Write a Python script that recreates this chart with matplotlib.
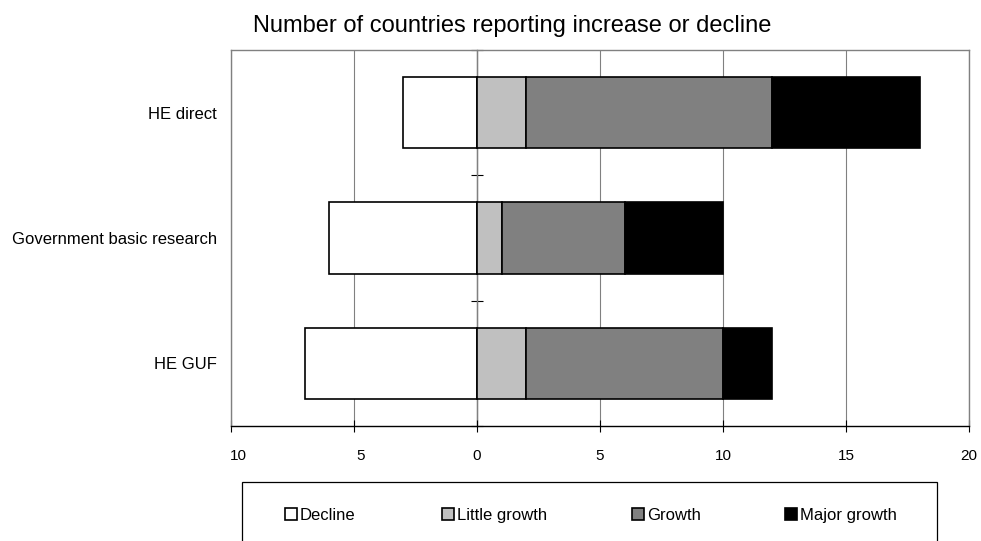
import matplotlib
matplotlib.use("Agg")
import matplotlib.pyplot as plt
import matplotlib.transforms as mtransforms
from matplotlib.patches import Rectangle
import numpy as np

plt.rcParams['font.family'] = ['Liberation Sans', 'DejaVu Sans']

# Number of countries per funding category
categories = ["HE direct", "Government basic research", "HE GUF"]
decline = [3, 6, 7]
little_growth = [2, 1, 2]
growth = [10, 5, 8]
major_growth = [6, 4, 2]

series_names = ["Decline", "Little growth", "Growth", "Major growth"]
series_colors = ["#FFFFFF", "#C0C0C0", "#808080", "#000000"]

x_ticks = [-10, -5, 0, 5, 10, 15, 20]

W, H = 981, 541
fig = plt.figure(figsize=(W / 100, H / 100), dpi=100)
ax = fig.add_axes([231 / W, 1 - 426 / H, 738 / W, 376 / H])

y = np.arange(len(categories))
dec = np.array(decline)
lit = np.array(little_growth)
gro = np.array(growth)
maj = np.array(major_growth)

bar_h = 0.57
edge = dict(edgecolor="black", linewidth=1.2, zorder=3)
ax.barh(y, -dec, height=bar_h, color=series_colors[0], **edge)
ax.barh(y, lit, height=bar_h, color=series_colors[1], **edge)
ax.barh(y, gro, left=lit, height=bar_h, color=series_colors[2], **edge)
ax.barh(y, maj, left=lit + gro, height=bar_h, color=series_colors[3], **edge)

ax.set_xlim(-10, 20)
ax.set_ylim(len(categories) - 0.5, -0.5)

# Vertical gridlines
ax.set_xticks(x_ticks)
ax.xaxis.grid(True, color="#808080", linewidth=0.8, zorder=0)
ax.set_axisbelow(True)

ax.set_xticklabels([str(abs(v)) for v in x_ticks], fontsize=11)
ax.tick_params(axis="x", direction="inout", length=9, width=0.8, color="black", pad=12)
for lbl, v in zip(ax.get_xticklabels(), x_ticks):
    if v < 0:
        lbl.set_transform(lbl.get_transform() +
                          mtransforms.ScaledTranslation(7 / 100, 0, fig.dpi_scale_trans))

ax.set_yticks(y)
ax.set_yticklabels(categories, fontsize=12)
ax.tick_params(axis="y", length=0, pad=10)

for side in ["left", "top", "right"]:
    ax.spines[side].set_color("#808080")
    ax.spines[side].set_linewidth(1.0)
ax.spines["bottom"].set_color("black")
ax.spines["bottom"].set_linewidth(1.0)

# Category axis at zero with boundary ticks
zero_frac = (0 - (-10)) / (20 - (-10))
sec = ax.secondary_yaxis(zero_frac)
sec.set_yticks(np.arange(len(categories) + 1) - 0.5)
sec.set_yticklabels([])
sec.tick_params(direction="inout", length=9, width=0.8, color="black")
sec.spines["left"].set_color("#707070")
sec.spines["left"].set_linewidth(1.0)
sec.spines["left"].set_zorder(4)

fig.text(512 / W, 1 - 32 / H, "Number of countries reporting increase or decline",
         ha="center", va="baseline", fontsize=17)

# Legend box (runs past the bottom edge of the figure)
fig.add_artist(Rectangle((242 / W, -0.05), (937 - 242) / W, (1 - 482 / H) + 0.05,
                         transform=fig.transFigure, facecolor="none",
                         edgecolor="black", linewidth=0.9, clip_on=False))

# Legend entries: swatch + label on a shared baseline
entry_x = [285, 442, 632, 785]
baseline_y = 520
sw = 12
for name, color, x0 in zip(series_names, series_colors, entry_x):
    fig.add_artist(Rectangle((x0 / W, 1 - baseline_y / H), sw / W, sw / H,
                             transform=fig.transFigure, facecolor=color,
                             edgecolor="black", linewidth=1.2))
    fig.text((x0 + sw + 3) / W, 1 - baseline_y / H, name,
             ha="left", va="baseline", fontsize=12)

fig.savefig("out.png", dpi=100)
